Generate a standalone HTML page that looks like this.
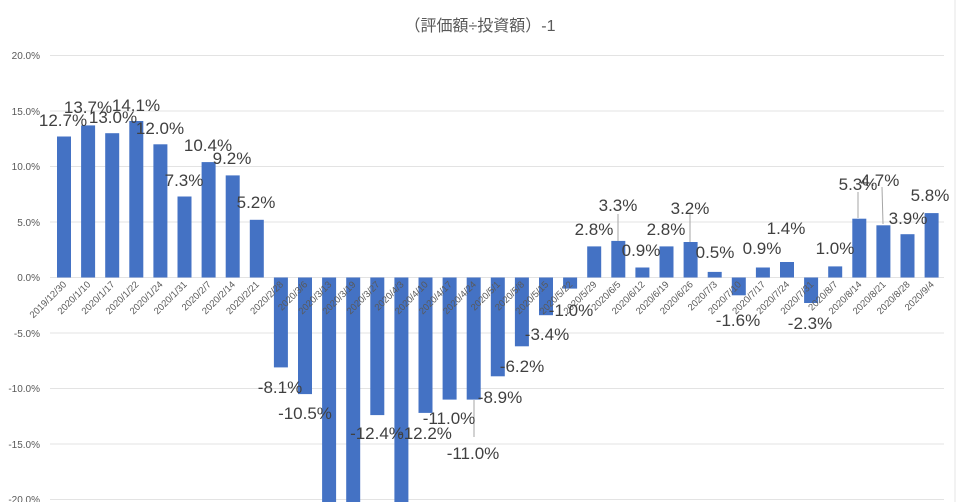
<!DOCTYPE html>
<html><head><meta charset="utf-8"><style>
html,body{margin:0;padding:0;background:#fff;}
svg{display:block;font-family:"Liberation Sans","Noto Sans CJK JP",sans-serif;}
</style></head><body>
<svg width="960" height="502" viewBox="0 0 960 502" xmlns="http://www.w3.org/2000/svg">
<rect x="0" y="0" width="960" height="502" fill="#fff"/>
<line x1="955" y1="0" x2="955" y2="502" stroke="#e6e6e6"/>
<text x="480" y="31" text-anchor="middle" font-size="16" fill="#595959">（評価額÷投資額）-1</text>
<g stroke="#e3e3e3" stroke-width="1">
<line x1="50" y1="55.5" x2="944" y2="55.5"/>
<line x1="50" y1="111" x2="944" y2="111"/>
<line x1="50" y1="166.5" x2="944" y2="166.5"/>
<line x1="50" y1="222" x2="944" y2="222"/>
<line x1="50" y1="277.5" x2="944" y2="277.5"/>
<line x1="50" y1="333" x2="944" y2="333"/>
<line x1="50" y1="388.5" x2="944" y2="388.5"/>
<line x1="50" y1="444" x2="944" y2="444"/>
<line x1="50" y1="499.5" x2="944" y2="499.5"/>
</g>
<g font-size="10" fill="#595959" text-anchor="end">
<text x="40" y="59">20.0%</text>
<text x="40" y="115">15.0%</text>
<text x="40" y="170">10.0%</text>
<text x="40" y="226">5.0%</text>
<text x="40" y="281">0.0%</text>
<text x="40" y="337">-5.0%</text>
<text x="40" y="392">-10.0%</text>
<text x="40" y="448">-15.0%</text>
<text x="40" y="503">-20.0%</text>
</g>
<g fill="#4472c4">
<rect x="57" y="136.5" width="14" height="141"/>
<rect x="81.1" y="125.4" width="14" height="152.1"/>
<rect x="105.2" y="133.2" width="14" height="144.3"/>
<rect x="129.3" y="121" width="14" height="156.5"/>
<rect x="153.4" y="144.3" width="14" height="133.2"/>
<rect x="177.5" y="196.5" width="14" height="81"/>
<rect x="201.6" y="162.1" width="14" height="115.4"/>
<rect x="225.7" y="175.4" width="14" height="102.1"/>
<rect x="249.8" y="219.8" width="14" height="57.7"/>
<rect x="273.9" y="277.5" width="14" height="89.9"/>
<rect x="298" y="277.5" width="14" height="116.6"/>
<rect x="322.1" y="277.5" width="14" height="230"/>
<rect x="346.2" y="277.5" width="14" height="230"/>
<rect x="370.3" y="277.5" width="14" height="137.6"/>
<rect x="394.4" y="277.5" width="14" height="230"/>
<rect x="418.5" y="277.5" width="14" height="135.4"/>
<rect x="442.6" y="277.5" width="14" height="122.1"/>
<rect x="466.7" y="277.5" width="14" height="122.1"/>
<rect x="490.8" y="277.5" width="14" height="98.8"/>
<rect x="514.9" y="277.5" width="14" height="68.8"/>
<rect x="539" y="277.5" width="14" height="37.7"/>
<rect x="563.1" y="277.5" width="14" height="11.1"/>
<rect x="587.2" y="246.4" width="14" height="31.1"/>
<rect x="611.3" y="240.9" width="14" height="36.6"/>
<rect x="635.4" y="267.5" width="14" height="10"/>
<rect x="659.5" y="246.4" width="14" height="31.1"/>
<rect x="683.6" y="242" width="14" height="35.5"/>
<rect x="707.7" y="271.9" width="14" height="5.6"/>
<rect x="731.8" y="277.5" width="14" height="17.8"/>
<rect x="755.9" y="267.5" width="14" height="10"/>
<rect x="780" y="262" width="14" height="15.5"/>
<rect x="804.1" y="277.5" width="14" height="25.5"/>
<rect x="828.2" y="266.4" width="14" height="11.1"/>
<rect x="852.3" y="218.7" width="14" height="58.8"/>
<rect x="876.4" y="225.3" width="14" height="52.2"/>
<rect x="900.5" y="234.2" width="14" height="43.3"/>
<rect x="924.6" y="213.1" width="14" height="64.4"/>
</g>
<g font-size="9.5" fill="#595959" text-anchor="end">
<text x="67" y="285" transform="rotate(-45 67 285)">2019/12/30</text>
<text x="91.1" y="285" transform="rotate(-45 91.1 285)">2020/1/10</text>
<text x="115.2" y="285" transform="rotate(-45 115.2 285)">2020/1/17</text>
<text x="139.3" y="285" transform="rotate(-45 139.3 285)">2020/1/22</text>
<text x="163.4" y="285" transform="rotate(-45 163.4 285)">2020/1/24</text>
<text x="187.5" y="285" transform="rotate(-45 187.5 285)">2020/1/31</text>
<text x="211.6" y="285" transform="rotate(-45 211.6 285)">2020/2/7</text>
<text x="235.7" y="285" transform="rotate(-45 235.7 285)">2020/2/14</text>
<text x="259.8" y="285" transform="rotate(-45 259.8 285)">2020/2/21</text>
<text x="283.9" y="285" transform="rotate(-45 283.9 285)">2020/2/28</text>
<text x="308" y="285" transform="rotate(-45 308 285)">2020/3/6</text>
<text x="332.1" y="285" transform="rotate(-45 332.1 285)">2020/3/13</text>
<text x="356.2" y="285" transform="rotate(-45 356.2 285)">2020/3/19</text>
<text x="380.3" y="285" transform="rotate(-45 380.3 285)">2020/3/27</text>
<text x="404.4" y="285" transform="rotate(-45 404.4 285)">2020/4/3</text>
<text x="428.5" y="285" transform="rotate(-45 428.5 285)">2020/4/10</text>
<text x="452.6" y="285" transform="rotate(-45 452.6 285)">2020/4/17</text>
<text x="476.7" y="285" transform="rotate(-45 476.7 285)">2020/4/24</text>
<text x="500.8" y="285" transform="rotate(-45 500.8 285)">2020/5/1</text>
<text x="524.9" y="285" transform="rotate(-45 524.9 285)">2020/5/8</text>
<text x="549" y="285" transform="rotate(-45 549 285)">2020/5/15</text>
<text x="573.1" y="285" transform="rotate(-45 573.1 285)">2020/5/22</text>
<text x="597.2" y="285" transform="rotate(-45 597.2 285)">2020/5/29</text>
<text x="621.3" y="285" transform="rotate(-45 621.3 285)">2020/6/5</text>
<text x="645.4" y="285" transform="rotate(-45 645.4 285)">2020/6/12</text>
<text x="669.5" y="285" transform="rotate(-45 669.5 285)">2020/6/19</text>
<text x="693.6" y="285" transform="rotate(-45 693.6 285)">2020/6/26</text>
<text x="717.7" y="285" transform="rotate(-45 717.7 285)">2020/7/3</text>
<text x="741.8" y="285" transform="rotate(-45 741.8 285)">2020/7/10</text>
<text x="765.9" y="285" transform="rotate(-45 765.9 285)">2020/7/17</text>
<text x="790" y="285" transform="rotate(-45 790 285)">2020/7/24</text>
<text x="814.1" y="285" transform="rotate(-45 814.1 285)">2020/7/31</text>
<text x="838.2" y="285" transform="rotate(-45 838.2 285)">2020/8/7</text>
<text x="862.3" y="285" transform="rotate(-45 862.3 285)">2020/8/14</text>
<text x="886.4" y="285" transform="rotate(-45 886.4 285)">2020/8/21</text>
<text x="910.5" y="285" transform="rotate(-45 910.5 285)">2020/8/28</text>
<text x="934.6" y="285" transform="rotate(-45 934.6 285)">2020/9/4</text>
</g>
<g stroke="#a6a6a6" stroke-width="1">
<line x1="474" y1="400" x2="474" y2="437"/>
<line x1="618" y1="214" x2="618" y2="241"/>
<line x1="690" y1="214" x2="690" y2="242"/>
<line x1="858" y1="192" x2="858" y2="218"/>
<line x1="882" y1="187" x2="883" y2="224"/>
</g>
<g font-size="17" fill="#404040" text-anchor="middle">
<text x="63" y="126">12.7%</text>
<text x="88" y="113">13.7%</text>
<text x="113" y="123">13.0%</text>
<text x="136" y="111">14.1%</text>
<text x="160" y="134">12.0%</text>
<text x="184" y="186">7.3%</text>
<text x="208" y="151">10.4%</text>
<text x="232" y="164">9.2%</text>
<text x="256" y="208">5.2%</text>
<text x="280" y="393">-8.1%</text>
<text x="305" y="419">-10.5%</text>
<text x="377" y="439">-12.4%</text>
<text x="425" y="439">-12.2%</text>
<text x="449" y="424">-11.0%</text>
<text x="473" y="459">-11.0%</text>
<text x="500" y="403">-8.9%</text>
<text x="522" y="372">-6.2%</text>
<text x="547" y="340">-3.4%</text>
<text x="571" y="316">-1.0%</text>
<text x="594" y="235">2.8%</text>
<text x="618" y="211">3.3%</text>
<text x="641" y="256">0.9%</text>
<text x="666" y="235">2.8%</text>
<text x="690" y="214">3.2%</text>
<text x="715" y="258">0.5%</text>
<text x="738" y="326">-1.6%</text>
<text x="762" y="254">0.9%</text>
<text x="786" y="234">1.4%</text>
<text x="810" y="329">-2.3%</text>
<text x="835" y="254">1.0%</text>
<text x="858" y="190">5.3%</text>
<text x="880" y="186">4.7%</text>
<text x="908" y="224">3.9%</text>
<text x="930" y="201">5.8%</text>
</g>
</svg>
</body></html>
